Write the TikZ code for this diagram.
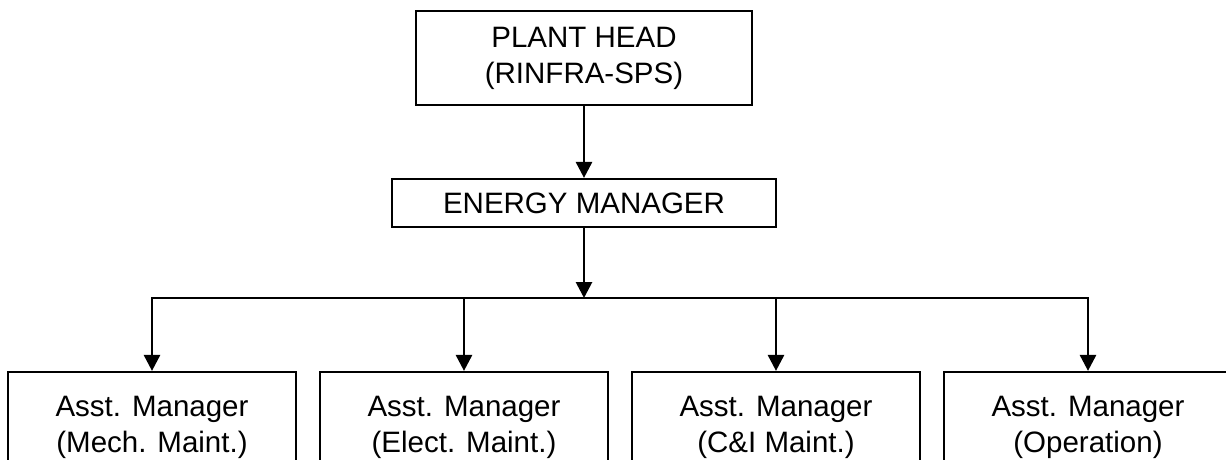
\documentclass[tikz,border=0pt]{standalone}
\usepackage{fontspec}
\setmainfont{Liberation Sans}
\usetikzlibrary{arrows.meta}
\begin{document}
\begin{tikzpicture}[x=1pt,y=-1pt,
  box/.style={draw,line width=2.2pt,inner sep=0pt,align=center,font=\fontsize{29.5}{36}\selectfont},
  wide/.style={box,minimum width=288pt,minimum height=110pt},
  conn/.style={line width=2.8pt,-{Triangle[width=16pt,length=16pt]}},
  bus/.style={line width=2.8pt,line cap=rect}]
\useasboundingbox (0,0) rectangle (1226,459);
\clip (0,0) rectangle (1226,459);
\node[box,minimum width=336pt,minimum height=94pt] (head) at (584,58) {PLANT HEAD\\(RINFRA-SPS)};
\node[box,minimum width=384pt,minimum height=48pt] (em) at (584,203) {ENERGY MANAGER};
\node[wide] (b1) at (152,427) {Asst. Manager\\(Mech. Maint.)};
\node[wide] (b2) at (464,427) {Asst. Manager\\(Elect. Maint.)};
\node[wide] (b3) at (776,427) {Asst. Manager\\(C\&I Maint.)};
\node[wide] (b4) at (1088,427) {Asst. Manager\\(Operation)};
\coordinate (bus) at (584,298);
\draw[conn] (head.south) -- (em.north);
\draw[conn] (em.south) -- (bus);
\draw[bus] (b1.north |- bus) -- (b4.north |- bus);
\foreach \b in {b1,b2,b3,b4}
  \draw[conn] (\b.north |- bus) -- (\b.north);
\end{tikzpicture}
\end{document}
